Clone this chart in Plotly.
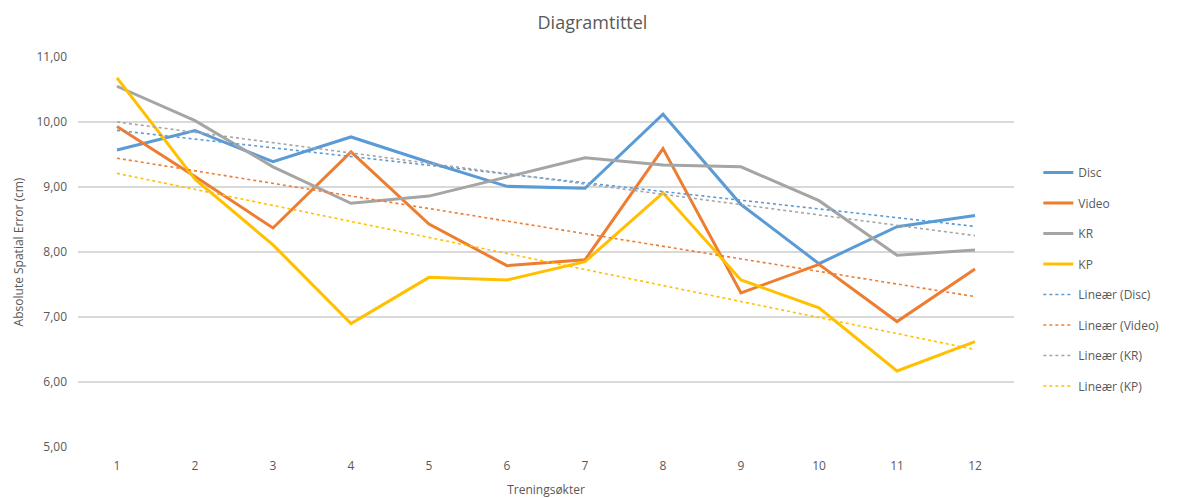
import numpy as np
import plotly.graph_objects as go

sessions = list(range(1, 13))
disc = [9.57, 9.87, 9.39, 9.77, 9.38, 9.01, 8.98, 10.12, 8.73, 7.82, 8.39, 8.56]
video = [9.93, 9.16, 8.37, 9.54, 8.43, 7.79, 7.88, 9.59, 7.37, 7.81, 6.93, 7.74]
kr = [10.55, 10.02, 9.31, 8.75, 8.86, 9.15, 9.45, 9.34, 9.31, 8.79, 7.95, 8.03]
kp = [10.68, 9.12, 8.11, 6.90, 7.61, 7.57, 7.85, 8.91, 7.57, 7.14, 6.17, 6.62]

names = ["Disc", "Video", "KR", "KP"]
series = [disc, video, kr, kp]
colors = ["#5B9BD5", "#ED7D31", "#A5A5A5", "#FFC000"]

fig = go.Figure()
for name, vals, col in zip(names, series, colors):
    fig.add_trace(go.Scatter(
        x=sessions, y=vals, mode="lines", name=name,
        line=dict(color=col, width=3), legendgroup=name,
    ))

# Least-squares linear trend for each series
x_arr = np.array(sessions, dtype=float)
for name, vals, col in zip(names, series, colors):
    slope, icpt = np.polyfit(x_arr, np.array(vals), 1)
    fig.add_trace(go.Scatter(
        x=sessions, y=slope * x_arr + icpt, mode="lines",
        name=f"Lineær ({name})",
        line=dict(color=col, width=1.6, dash="dot"),
        legendgroup="trend_" + name,
    ))

font_col = "#595959"
fig.update_layout(
    width=1185, height=498,
    margin=dict(l=78, r=171, t=57, b=51),
    paper_bgcolor="white", plot_bgcolor="white",
    font=dict(family="Open Sans, Noto Sans, sans-serif", size=12, color=font_col),
    separators=",.",
    title=dict(text="Diagramtittel", x=0.5, xanchor="center", y=0.955, yanchor="middle",
               font=dict(size=18, color=font_col)),
    legend=dict(x=1.026, xanchor="left", y=0.741, yanchor="top",
                tracegroupgap=11.5, font=dict(size=12, color=font_col),
                bgcolor="rgba(0,0,0,0)"),
    showlegend=True,
)
fig.update_xaxes(
    range=[0.5, 12.5], tickmode="array", tickvals=sessions,
    ticktext=[str(s) for s in sessions],
    showgrid=False, zeroline=False, showline=False, ticks="",
    ticklabelstandoff=10, automargin=False,
    title=dict(text="Treningsøkter", standoff=12, font=dict(size=12, color=font_col)),
)
fig.update_yaxes(
    range=[5, 11], dtick=1, tickformat=".2f",
    showgrid=True, gridcolor="#D9D9D9", gridwidth=1.5,
    zeroline=False, showline=False, ticks="",
    ticklabelstandoff=10, automargin=False,
    title=dict(text="Absolute Spatial Error (cm)", standoff=10, font=dict(size=12, color=font_col)),
)

fig.write_html("out.html")
